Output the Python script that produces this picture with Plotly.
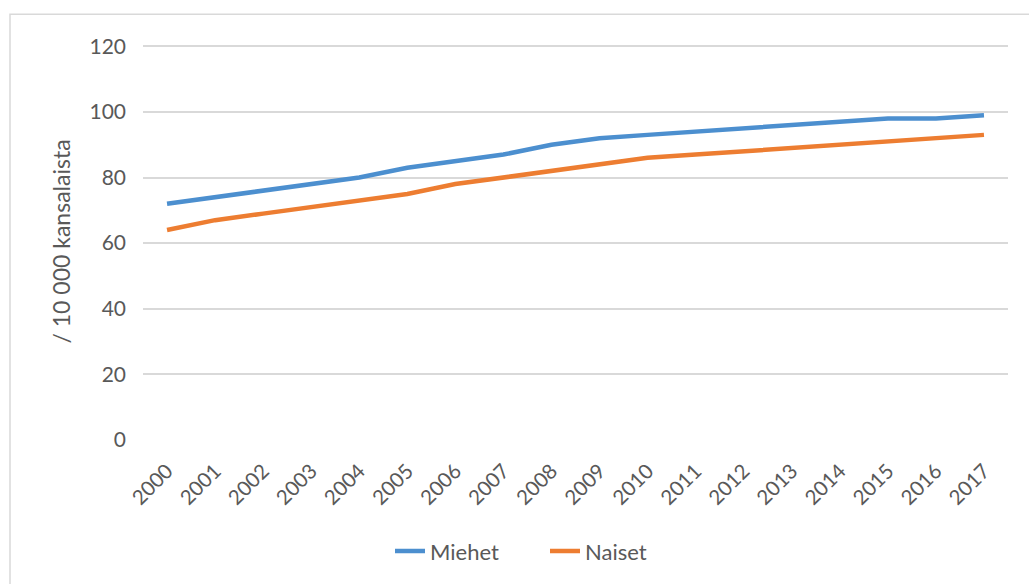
import plotly.graph_objects as go

# Annual rate per 10 000 citizens, 2000-2017
years = [str(y) for y in range(2000, 2018)]
miehet = [72, 74, 76, 78, 80, 83, 85, 87, 90, 92, 93, 94, 95, 96, 97, 98, 98, 99]
naiset = [64, 67, 69, 71, 73, 75, 78, 80, 82, 84, 86, 87, 88, 89, 90, 91, 92, 93]
y_ticks = [0, 20, 40, 60, 80, 100, 120]

W, H = 1029, 584
L, R, T, B = 143, 21, 43, 141
pw, ph = W - L - R, H - T - B


def px_x(v):
    return (v - L) / pw


def px_y(v):
    return (H - B - v) / ph


text_col = "#595959"
grid_col = "#D9D9D9"
font_family = "Lato, 'Open Sans', sans-serif"

fig = go.Figure()
fig.add_trace(go.Scatter(x=years, y=miehet, name="Miehet", mode="lines",
                         line=dict(color="#4C8FCF", width=4.5)))
fig.add_trace(go.Scatter(x=years, y=naiset, name="Naiset", mode="lines",
                         line=dict(color="#ED7D31", width=4.5)))

fig.update_layout(
    width=W, height=H,
    margin=dict(l=L, r=R, t=T, b=B),
    paper_bgcolor="white", plot_bgcolor="white",
    font=dict(family=font_family, color=text_col, size=20),
    showlegend=True,
    legend=dict(orientation="h", x=px_x(545), xanchor="center",
                y=px_y(555), yanchor="middle", font=dict(size=22),
                entrywidth=110, entrywidthmode="pixels"),
    xaxis=dict(type="category", range=[-0.5, 17.5], tickangle=-45,
               showgrid=False, zeroline=False, showline=False,
               tickfont=dict(size=20.5), ticks="", ticklabelstandoff=14),
    yaxis=dict(range=[0, 121], tickvals=y_ticks, showgrid=True,
               gridcolor=grid_col, gridwidth=1.5, zeroline=False,
               showline=False, ticks="", tickfont=dict(size=21),
               ticklabelstandoff=16),
    shapes=[dict(type="rect", xref="paper", yref="paper",
                 x0=px_x(10), x1=px_x(1040), y0=px_y(600), y1=px_y(14),
                 line=dict(color=grid_col, width=1.5), layer="below")],
    annotations=[dict(text="/ 10 000 kansalaista", xref="paper", yref="paper",
                      x=px_x(60), y=px_y(243), xanchor="center", yanchor="middle",
                      textangle=-90, showarrow=False,
                      font=dict(size=23, color=text_col))],
)

fig.write_html("out.html")
